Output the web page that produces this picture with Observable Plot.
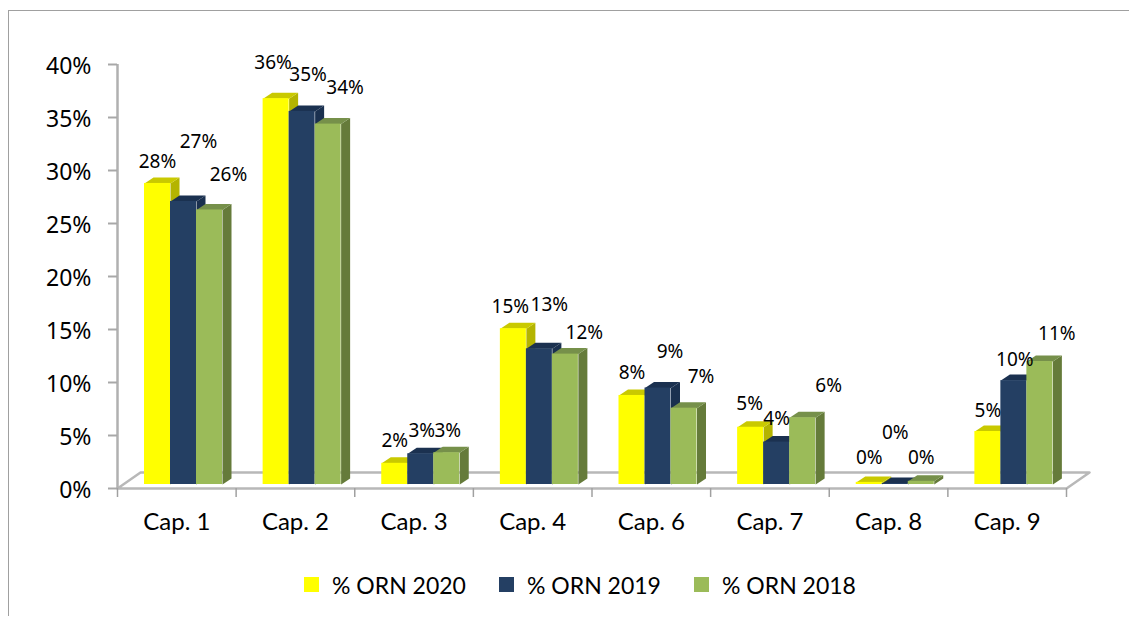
<!DOCTYPE html>
<html>
<head>
<meta charset="utf-8">
<script src="https://cdn.jsdelivr.net/npm/d3@7"></script>
<script src="https://cdn.jsdelivr.net/npm/@observablehq/plot@0.6"></script>
<style>
  html, body { margin: 0; padding: 0; background: #fff; width: 1129px; height: 618px; overflow: hidden; }
  #page { position: relative; width: 1129px; height: 618px; }
  #frame { position: absolute; left: 8px; top: 10px; width: 1125px; height: 605px; border-top: 1.5px solid #a0a0a0; border-left: 1.5px solid #a0a0a0; pointer-events: none; }
  #chart svg { display: block; }
  #legend { position: absolute; left: 0; top: 569px; width: 100%; height: 32px; font: 23px Lato, sans-serif; color: #000; }
  #legend .item { position: absolute; top: 0; height: 32px; line-height: 32px; white-space: nowrap; }
  #legend .swatch { position: absolute; left: 0; top: 8px; width: 15px; height: 15px; }
  #legend .name { position: absolute; left: 28px; top: 0; }
</style>
</head>
<body>
<div id="page">
  <div id="chart"></div>
  <div id="legend"></div>
  <div id="frame"></div>
</div>
<script>
// --- data ---
const chapters = ["Cap. 1", "Cap. 2", "Cap. 3", "Cap. 4", "Cap. 6", "Cap. 7", "Cap. 8", "Cap. 9"];
const seriesNames = ["% ORN 2020", "% ORN 2019", "% ORN 2018"];
const orn2020 = [28.4, 36.4, 2.0, 14.7, 8.4, 5.4, 0.2, 5.0];
const orn2019 = [26.7, 35.2, 2.9, 12.8, 9.1, 4.0, 0.1, 9.8];
const orn2018 = [25.9, 34.0, 3.0, 12.3, 7.2, 6.3, 0.3, 11.6];
const labels2020 = ["28%", "36%", "2%", "15%", "8%", "5%", "0%", "5%"];
const labels2019 = ["27%", "35%", "3%", "13%", "9%", "4%", "0%", "10%"];
const labels2018 = ["26%", "34%", "3%", "12%", "7%", "6%", "0%", "11%"];
const yTicks = [0, 5, 10, 15, 20, 25, 30, 35, 40];

// --- styling and hand-placed label offsets (pixels from each bar top) ---
const frontColors = ["#ffff00", "#243f63", "#9bbb59"];
const topColors = ["#c9c900", "#1b3150", "#76904a"];
const sideColors = ["#b4b400", "#1a304f", "#657b3a"];
const labelDx = [
  [0, -3, 0, -3, 0, -1, 0, 0],
  [15, 6, 1, 10, 12, 0, 0, 1],
  [19, 17, 1, 19, 17, 26, 0, 17]
];
const labelDy = [
  [-22, -36, -22, -22, -23, -23, -24, -21],
  [-60, -36, -23, -44, -36, -23, -51, -21],
  [-35, -36, -22, -21, -31, -32, -23, -28]
];

const W = 1129, H = 540;
const M = {top: 64, right: 63, bottom: 52, left: 117};
const unitX = (W - M.left - M.right) / chapters.length; // px per chapter
const unitY = (H - M.top - M.bottom) / 40;              // px per percent
const px = v => v / unitX, py = v => v / unitY;         // pixel lengths in data units

const groupStart = px(27), barW = px(26), depthX = px(9), depthY = py(6);
const floorX = px(23), floorY = py(16);
const baseLift = -4; // bars stand slightly in from the front floor edge

const seriesValues = [orn2020, orn2019, orn2018];
const seriesLabels = [labels2020, labels2019, labels2018];

function barLayer(s) {
  const bars = seriesValues[s].map((v, i) => {
    const x1 = i + groupStart + s * barW;
    return {i, v, x1, x2: x1 + barW};
  });
  const poly = (b, pts) => pts.map(([x, y]) => ({id: b.i, x, y}));
  const tops = bars.flatMap(b => poly(b, [
    [b.x1, b.v], [b.x2, b.v], [b.x2 + depthX, b.v + depthY], [b.x1 + depthX, b.v + depthY]
  ]));
  const sides = bars.flatMap(b => poly(b, [
    [b.x2, 0], [b.x2, b.v], [b.x2 + depthX, b.v + depthY], [b.x2 + depthX, depthY]
  ]));
  return [
    Plot.line(sides, {x: "x", y: "y", z: "id", fill: sideColors[s], stroke: "none", dy: baseLift}),
    Plot.line(tops, {x: "x", y: "y", z: "id", fill: topColors[s], stroke: "none", dy: baseLift}),
    Plot.rect(bars, {x1: "x1", x2: "x2", y1: 0, y2: "v", fill: frontColors[s], dy: baseLift})
  ];
}

function labelLayer(s) {
  return seriesValues[s].map((v, i) => Plot.text([v], {
    x: i + groupStart + (s + 0.5) * barW,
    y: v,
    text: () => seriesLabels[s][i],
    dx: labelDx[s][i],
    dy: labelDy[s][i] + baseLift,
    fontSize: 19,
    fontFamily: "'Noto Sans', sans-serif",
    fill: "#000",
    textAnchor: "middle"
  }));
}

const floor = [[0, 0], [chapters.length, 0], [chapters.length + floorX, floorY], [floorX, floorY]]
  .map(([x, y]) => ({x, y}));
const floorClosed = floor.concat([floor[0]]);

const chart = Plot.plot({
  width: W, height: H,
  marginTop: M.top, marginRight: M.right, marginBottom: M.bottom, marginLeft: M.left,
  style: {background: "#fff", overflow: "visible"},
  x: {type: "linear", domain: [0, chapters.length], axis: null},
  y: {domain: [0, 40], axis: null},
  marks: [
    Plot.line(floorClosed, {x: "x", y: "y", stroke: "#b8b8b8", strokeWidth: 2.5, fill: "#fff"}),
    Plot.ruleX([0], {y1: 0, y2: 40, stroke: "#b0b0b0", strokeWidth: 2.5}),
    Plot.axisY({
      ticks: yTicks, tickSize: 9, tickFormat: () => "",
      stroke: "#a8a8a8", strokeWidth: 2, label: null
    }),
    Plot.axisY({
      ticks: yTicks, tickSize: 0, tickPadding: 26, dy: 2,
      tickFormat: d => d + "%", fontSize: 23, fontFamily: "'Noto Sans', sans-serif", fill: "#000", label: null
    }),
    Plot.axisX({
      ticks: d3.range(chapters.length + 1), tickSize: 9, tickFormat: () => "",
      stroke: "#a0a0a0", strokeWidth: 1.5, label: null
    }),
    Plot.axisX({
      ticks: chapters.map((c, i) => i + 0.5), tickSize: 0, tickPadding: 24,
      tickFormat: d => chapters[Math.floor(d)], fontSize: 24, fontFamily: "Lato, sans-serif",
      fill: "#000", label: null
    }),
    ...barLayer(0), ...barLayer(1), ...barLayer(2),
    ...labelLayer(0), ...labelLayer(1), ...labelLayer(2)
  ]
});
document.getElementById("chart").appendChild(chart);

const legendLeft = [304, 499, 694];
const legend = document.getElementById("legend");
seriesNames.forEach((name, s) => {
  const item = document.createElement("div");
  item.className = "item";
  item.style.left = legendLeft[s] + "px";
  item.innerHTML = '<span class="swatch" style="background:' + frontColors[s] + '"></span><span class="name">' + name + '</span>';
  legend.appendChild(item);
});
</script>
</body>
</html>
